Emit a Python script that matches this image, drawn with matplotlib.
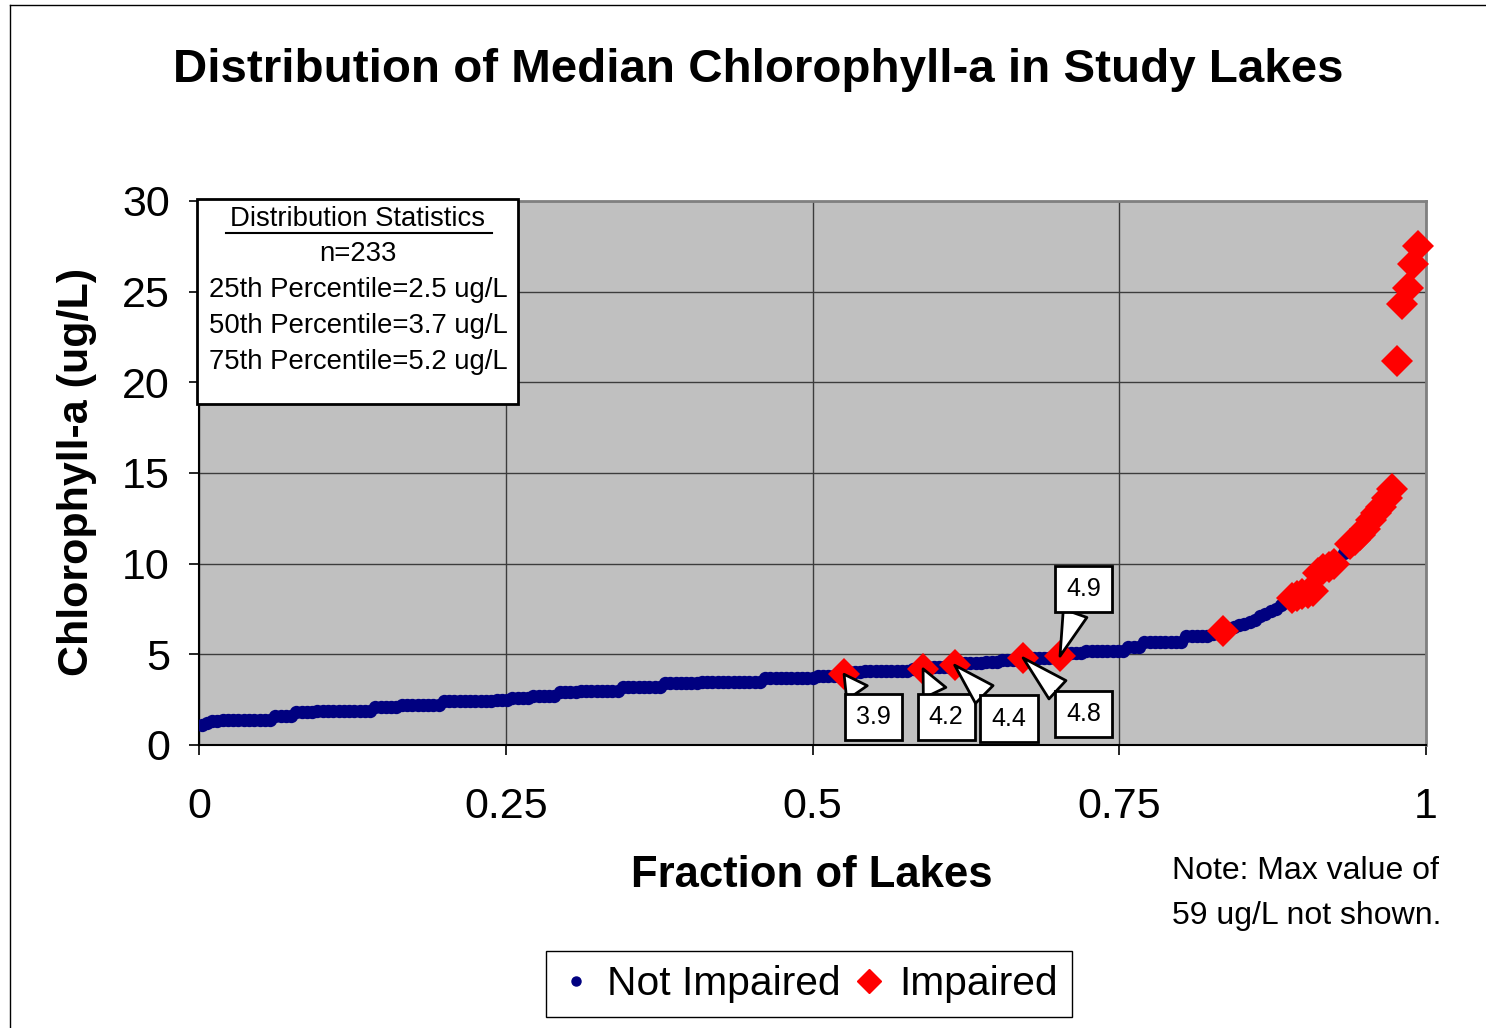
import matplotlib
matplotlib.use("Agg")
import matplotlib.pyplot as plt
import numpy as np
from matplotlib.lines import Line2D
from matplotlib.patches import Rectangle

plt.rcParams['font.family'] = ['Liberation Sans', 'DejaVu Sans']

# Median chlorophyll-a (ug/L) per lake, sorted low to high (n=233)
chl_sorted = [
    1.1, 1.2, 1.3, 1.3, 1.4, 1.4, 1.4, 1.4, 1.4, 1.4, 1.4, 1.4, 1.4, 1.4,
    1.6, 1.6, 1.6, 1.6, 1.8, 1.8, 1.8, 1.8,
    1.9, 1.9, 1.9, 1.9, 1.9, 1.9, 1.9, 1.9, 1.9, 1.9, 1.9,
    2.1, 2.1, 2.1, 2.1, 2.1, 2.2, 2.2, 2.2, 2.2, 2.2, 2.2, 2.2, 2.2,
    2.4, 2.4, 2.4, 2.4, 2.4, 2.4, 2.4, 2.4, 2.4, 2.4, 2.5, 2.5, 2.5,
    2.6, 2.6, 2.6, 2.6, 2.7, 2.7, 2.7, 2.7, 2.7, 2.9, 2.9, 2.9, 2.9,
    3.0, 3.0, 3.0, 3.0, 3.0, 3.0, 3.0, 3.0, 3.2, 3.2, 3.2, 3.2, 3.2, 3.2, 3.2, 3.2,
    3.4, 3.4, 3.4, 3.4, 3.4, 3.4, 3.4,
    3.5, 3.5, 3.5, 3.5, 3.5, 3.5, 3.5, 3.5, 3.5, 3.5, 3.5, 3.5,
    3.7, 3.7, 3.7, 3.7, 3.7, 3.7, 3.7, 3.7, 3.7, 3.7, 3.8, 3.8, 3.8, 3.8, 3.8,
    3.9, 4.0, 4.0, 4.0, 4.1, 4.1, 4.1, 4.1, 4.1, 4.1, 4.1, 4.1, 4.1, 4.2, 4.2,
    4.2, 4.3, 4.3, 4.3, 4.3, 4.3, 4.4, 4.5, 4.5, 4.5, 4.5, 4.5,
    4.6, 4.6, 4.6, 4.7, 4.7, 4.7, 4.7, 4.8,
    4.8, 4.8, 4.8, 4.8, 4.8, 4.8, 4.9, 5.1, 5.1, 5.1, 5.1,
    5.2, 5.2, 5.2, 5.2, 5.2, 5.2, 5.2, 5.2, 5.4, 5.4, 5.4,
    5.7, 5.7, 5.7, 5.7, 5.7, 5.7, 5.7, 5.7, 6.0, 6.0, 6.0, 6.0, 6.0, 6.1, 6.2, 6.3,
    6.4, 6.5, 6.6, 6.7, 6.8, 6.9, 7.1, 7.2, 7.4, 7.5, 7.7, 7.9,
    8.1, 8.2, 8.3, 8.4, 8.5, 9.5, 9.7, 9.8, 10.0, 10.3, 10.6,
    11.1, 11.3, 11.6, 11.9, 12.4, 12.8, 13.1, 13.6, 14.1,
    21.2, 24.3, 25.2, 26.5, 27.5, 59.0,
]
n_lakes = 233
assert len(chl_sorted) == n_lakes

# ranks (1-based) of lakes listed as impaired
impaired_ranks = [123, 138, 144, 157, 164, 195,
                  208, 209, 210, 211, 212, 213, 214, 215, 216,
                  219, 220, 221, 222, 223, 224, 225, 226, 227,
                  228, 229, 230, 231, 232, 233]

# impaired lakes that get a callout label
label_ranks = [123, 138, 144, 157, 164]
label_texts = ['3.9', '4.2', '4.4', '4.8', '4.9']

stats_lines = ['n=233',
               '25th Percentile=2.5 ug/L',
               '50th Percentile=3.7 ug/L',
               '75th Percentile=5.2 ug/L']

chl = np.array(chl_sorted)
ranks = np.arange(1, n_lakes + 1)
frac = (ranks - 0.5) / n_lakes
is_imp = np.isin(ranks, impaired_ranks)

W, H = 1486, 1028
fig = plt.figure(figsize=(W / 100, H / 100), dpi=100)
ax = fig.add_axes([199 / W, 1 - 745 / H, (1426 - 199) / W, (745 - 201) / H])
ax.set_facecolor('#c0c0c0')

ax.plot(frac[~is_imp], chl[~is_imp], 'o', color='#000080', markersize=9.6,
        markeredgewidth=0, zorder=3)
ax.plot(frac[is_imp], chl[is_imp], 'D', color='#ff0000', markersize=16,
        markeredgewidth=0, zorder=4, clip_on=False)

ax.set_xlim(0, 1)
ax.set_ylim(0, 30)
ax.set_xticks([0, 0.25, 0.5, 0.75, 1])
ax.set_xticklabels(['0', '0.25', '0.5', '0.75', '1'])
ax.set_yticks([0, 5, 10, 15, 20, 25, 30])
ax.grid(True, color='#3c3c3c', linewidth=1)
ax.set_axisbelow(True)
ax.tick_params(axis='both', direction='out', length=7, width=1.2,
               labelsize=31, color='black')
ax.tick_params(axis='x', pad=23)
ax.tick_params(axis='y', pad=14)
for side in ['top', 'right']:
    ax.spines[side].set_color('#808080')
    ax.spines[side].set_linewidth(2)
for side in ['left', 'bottom']:
    ax.spines[side].set_color('black')
    ax.spines[side].set_linewidth(1.5)

# callout labels
label_pos = [(0.550, 1.54), (0.609, 1.54), (0.660, 1.45), (0.721, 1.71), (0.721, 8.6)]
for r, txt, pos in zip(label_ranks, label_texts, label_pos):
    ax.annotate(txt, xy=(frac[r - 1], chl[r - 1]), xytext=pos,
                ha='center', va='center', fontsize=18, zorder=6,
                bbox=dict(boxstyle='square,pad=0.45', fc='white', ec='black', lw=2),
                arrowprops=dict(arrowstyle='wedge,tail_width=1.0', fc='white',
                                ec='black', lw=2, shrinkA=0, shrinkB=0))

# titles
fig.text(0.510, 0.932, 'Distribution of Median Chlorophyll-a in Study Lakes',
         ha='center', va='center', fontsize=34.2, fontweight='bold')
fig.text(0.546, 0.148, 'Fraction of Lakes', ha='center', va='center',
         fontsize=31.4, fontweight='bold')
fig.text(0.052, 0.541, 'Chlorophyll-a (ug/L)', ha='center', va='center',
         fontsize=31, fontweight='bold', rotation=90)

# stats box
fig.patches.append(Rectangle((197 / W, 1 - 404 / H), 321 / W, 205 / H,
                             transform=fig.transFigure, fc='white', ec='black',
                             lw=2, zorder=5))
fig.text(358 / W, 1 - 219 / H, 'Distribution Statistics', ha='center',
         va='center', fontsize=19.8, zorder=6)
fig.lines.append(Line2D([226 / W, 492 / W], [1 - 233 / H, 1 - 233 / H],
                        transform=fig.transFigure, color='black', lw=1.5, zorder=6))
for i, line in enumerate(stats_lines):
    fig.text(358 / W, 1 - (254 + 36 * i) / H, line, ha='center', va='center',
             fontsize=19.8, zorder=6)

# note
fig.text(1172 / W, 1 - 871 / H, 'Note: Max value of', ha='left', va='center', fontsize=23)
fig.text(1172 / W, 1 - 916 / H, '59 ug/L not shown.', ha='left', va='center', fontsize=23)

# legend
handles = [Line2D([], [], ls='none', marker='o', color='#000080', markersize=6.5),
           Line2D([], [], ls='none', marker='D', color='#ff0000', markersize=12.5)]
fig.legend(handles, ['Not Impaired', 'Impaired'], loc='center',
           bbox_to_anchor=(809 / W, 1 - 984 / H), ncol=2, fontsize=29.3,
           frameon=True, fancybox=False, edgecolor='black', framealpha=1,
           handlelength=0.8, handletextpad=0.35, columnspacing=0.3,
           borderpad=0.35)

# outer chart border
fig.lines.append(Line2D([10 / W, 1], [1 - 5 / H, 1 - 5 / H],
                        transform=fig.transFigure, color='black', lw=1))
fig.lines.append(Line2D([10 / W, 10 / W], [0, 1 - 5 / H],
                        transform=fig.transFigure, color='black', lw=1))

fig.savefig('out.png', dpi=100)
